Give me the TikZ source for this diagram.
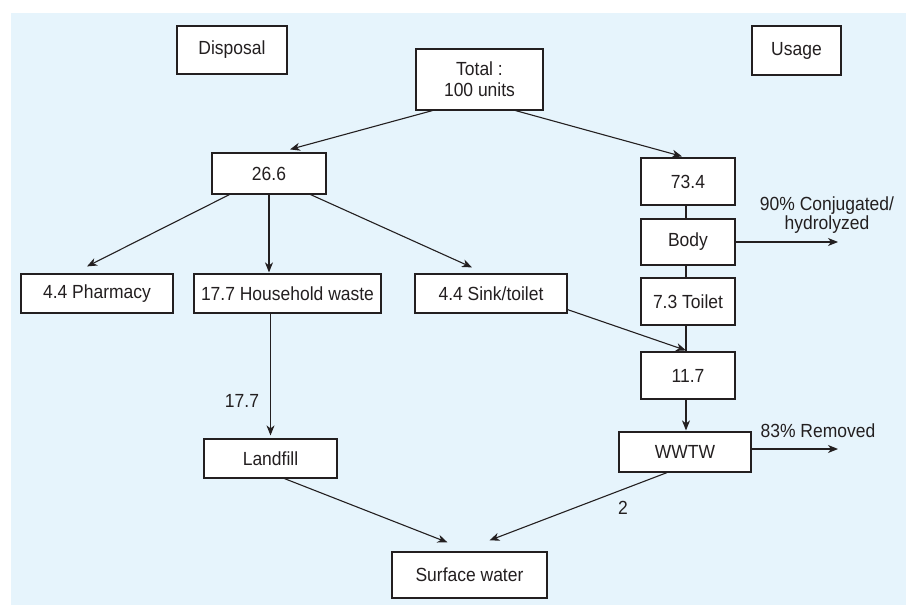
\documentclass[tikz,border=0pt]{standalone}
\usepackage{fontspec}
\setmainfont{Liberation Sans}[FakeStretch=0.92]
\usetikzlibrary{arrows.meta,calc}
\definecolor{panel}{RGB}{230,244,252}
\definecolor{ink}{RGB}{35,31,32}
\begin{document}
\begin{tikzpicture}[x=1pt,y=-1pt,
  every node/.style={font=\fontsize{19}{22}\selectfont, text=ink},
  box/.style={draw=ink, fill=white, line width=1.2pt, inner sep=0pt, align=center},
  conn/.style={draw=ink, line width=1.1pt},
  arr/.style={conn, -{Stealth[length=10pt,width=8pt,inset=3pt]}},
  lbl/.style={inner sep=0pt, align=center}]
\useasboundingbox (0,0) rectangle (906,605);
\fill[panel] (11,13) rectangle (906,605);
% boxes
\node[box, minimum width=110pt, minimum height=48pt] (disp) at (232,50) {Disposal};
\node[box, minimum width=89pt, minimum height=49pt] (usage) at (796.5,50.5) {Usage};
\node[box, minimum width=127pt, minimum height=61pt] (total) at (479.5,79.5) {Total :\\[-1pt]100 units};
\node[box, minimum width=114pt, minimum height=41pt] (n266) at (269,173.5) {26.6};
\node[box, minimum width=94pt, minimum height=47pt] (n734) at (688,181.5) {73.4};
\node[box, minimum width=94pt, minimum height=46pt] (body) at (688,242) {Body};
\node[box, minimum width=94pt, minimum height=47pt] (toilet) at (688,301.5) {7.3 Toilet};
\node[box, minimum width=152pt, minimum height=39pt] (pharm) at (97,293.5) {4.4 Pharmacy};
\node[box, minimum width=187pt, minimum height=39pt] (house) at (287.5,293.5) {17.7 Household waste};
\node[box, minimum width=152pt, minimum height=39pt] (sink) at (491,293.5) {4.4 Sink/toilet};
\node[box, minimum width=94pt, minimum height=47pt] (n117) at (688,375.5) {11.7};
\node[box, minimum width=132pt, minimum height=40pt] (wwtw) at (685,452) {WWTW};
\node[box, minimum width=133pt, minimum height=39pt] (land) at (270.5,458.5) {Landfill};
\node[box, minimum width=155pt, minimum height=46pt] (surf) at (469.5,575) {Surface water};
% free ends
\coordinate (conjend) at (838,242);
\coordinate (remend) at (838,449);
% labels
\node[lbl] (lconj) at (827,215) {90\% Conjugated/\\[-3pt]hydrolyzed};
\node[lbl] (lrem) at (818,431) {83\% Removed};
\node[lbl] (l177) at (242,401) {17.7};
\node[lbl] (l2) at (623,508) {2};
% connectors
\draw[arr] ([xshift=17pt]total.south west) -- ([xshift=21pt,yshift=3pt]n266.north);
\draw[arr] ([xshift=-28pt]total.south east) -- ([xshift=-6pt,yshift=1pt]n734.north);
\draw[arr] ([xshift=18pt]n266.south west) -- ([xshift=-10pt,yshift=7pt]pharm.north);
\draw[arr] (n266.south) -- ([yshift=1pt]n266.south |- house.north);
\draw[arr] ([xshift=-16pt]n266.south east) -- ([xshift=-19pt,yshift=6pt]sink.north);
\draw[arr] (land.north |- house.south) -- ([yshift=3pt]land.north);
\draw[conn] ([xshift=-2pt]n734.south) -- ([xshift=-2pt]body.north);
\draw[conn] ([xshift=-2pt]body.south) -- ([xshift=-2pt]toilet.north);
\draw[conn] ([xshift=-2pt]toilet.south) -- ([xshift=-2pt]n117.north);
\draw[arr] ([yshift=4pt]sink.south east) -- ([xshift=-2pt,yshift=1pt]n117.north);
\draw[arr] ([xshift=-2pt]n117.south) -- ([xshift=-2pt,yshift=1pt]n117.south |- wwtw.north);
\draw[arr] (body.east) -- (conjend);
\draw[arr] (wwtw.east |- remend) -- (remend);
\draw[arr] ([xshift=14pt]land.south) -- ([xshift=-22pt,yshift=9pt]surf.north);
\draw[arr] ([xshift=-18pt]wwtw.south) -- ([xshift=20pt,yshift=11pt]surf.north);
\end{tikzpicture}
\end{document}
